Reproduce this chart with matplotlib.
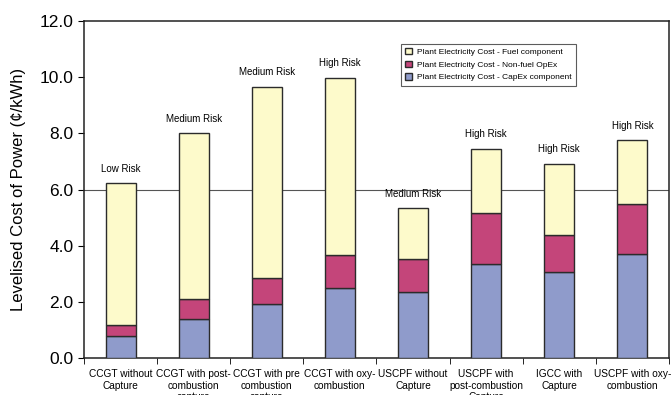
import numpy as np
import matplotlib.pyplot as plt
from matplotlib.patches import Patch

plt.rcParams['font.family'] = ['Liberation Sans', 'DejaVu Sans']

technologies = [
    "CCGT without\nCapture",
    "CCGT with post-\ncombustion\ncapture",
    "CCGT with pre\ncombustion\ncapture",
    "CCGT with oxy-\ncombustion",
    "USCPF without\nCapture",
    "USCPF with\npost-combustion\nCapture",
    "IGCC with\nCapture",
    "USCPF with oxy-\ncombustion",
]
risk = ["Low Risk", "Medium Risk", "Medium Risk", "High Risk",
        "Medium Risk", "High Risk", "High Risk", "High Risk"]

# cost components in c/kWh
capex = np.array([0.80, 1.39, 1.91, 2.49, 2.36, 3.33, 3.06, 3.70])
nonfuel_opex = np.array([0.36, 0.70, 0.95, 1.19, 1.17, 1.84, 1.32, 1.78])
fuel = np.array([5.06, 5.91, 6.79, 6.29, 1.80, 2.29, 2.52, 2.27])
total = capex + nonfuel_opex + fuel

c_fuel = "#fdfacb"
c_opex = "#c4457a"
c_capex = "#8f9bcb"
edge = "#2b2b2b"

fig = plt.figure(figsize=(6.72, 3.95), dpi=100)
ax = fig.add_axes([0.125, 0.0937, 0.8705, 0.853])

x = np.arange(len(technologies))
w = 0.41
ax.bar(x, capex, w, color=c_capex, edgecolor=edge, linewidth=1.0, zorder=3)
ax.bar(x, nonfuel_opex, w, bottom=capex, color=c_opex, edgecolor=edge,
       linewidth=1.0, zorder=3)
ax.bar(x, fuel, w, bottom=capex + nonfuel_opex, color=c_fuel, edgecolor=edge,
       linewidth=1.0, zorder=3)

for xi, t, r in zip(x, total, risk):
    ax.text(xi, t + 0.35, r, ha="center", va="bottom", fontsize=7)

ax.axhline(6.0, color="#555555", linewidth=0.8, zorder=1)

ax.set_xlim(-0.5, len(technologies) - 0.5)
ax.set_ylim(0, 12)
ax.set_yticks(np.arange(0, 12.1, 2))
ax.set_yticklabels([f"{v:.1f}" for v in np.arange(0, 12.1, 2)], fontsize=12.5)
ax.set_ylabel("Levelised Cost of Power (\u00a2/kWh)", fontsize=12, labelpad=10)

ax.set_xticks(x)
ax.set_xticklabels(technologies, fontsize=7.3, linespacing=1.2)
ax.tick_params(axis="x", length=0, pad=8)
ax.set_xticks(np.arange(-0.5, len(technologies)), minor=True)
ax.tick_params(axis="x", which="minor", length=4, direction="out")
ax.tick_params(axis="y", length=4, direction="out")

for s in ax.spines.values():
    s.set_color("#222222")
    s.set_linewidth(1.1)

handles = [
    Patch(facecolor=c_fuel, edgecolor=edge, label="Plant Electricity Cost - Fuel component"),
    Patch(facecolor=c_opex, edgecolor=edge, label="Plant Electricity Cost - Non-fuel OpEx"),
    Patch(facecolor=c_capex, edgecolor=edge, label="Plant Electricity Cost - CapEx component"),
]
leg = ax.legend(handles=handles, loc="upper left", bbox_to_anchor=(0.535, 0.945),
                fontsize=6, frameon=True, fancybox=False, handlelength=0.8,
                handleheight=0.8, handletextpad=0.6, borderpad=0.5,
                labelspacing=0.55)
leg.get_frame().set_edgecolor("#333333")
leg.get_frame().set_linewidth(0.8)

fig.savefig("out.png", dpi=100)
